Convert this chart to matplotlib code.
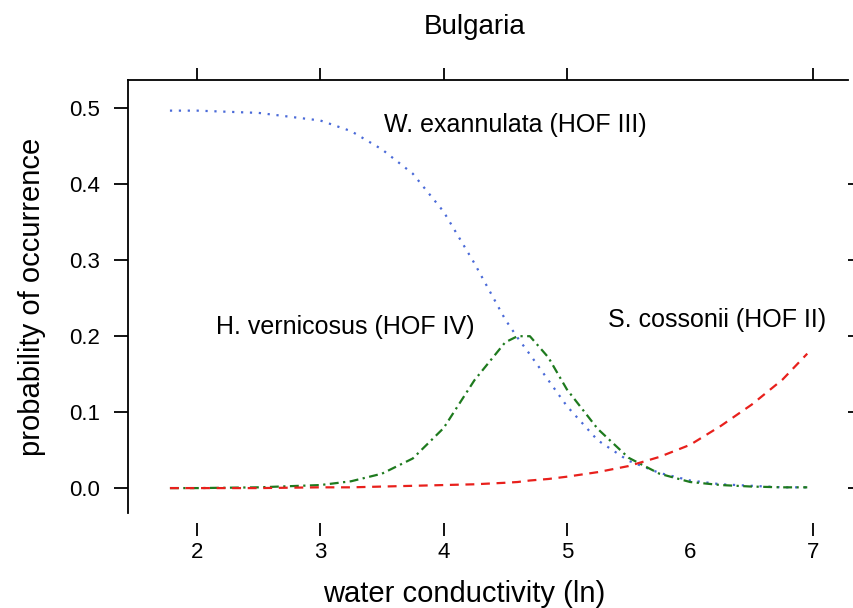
import matplotlib
matplotlib.use("Agg")
import matplotlib.pyplot as plt

plt.rcParams['font.family'] = ['Liberation Sans', 'DejaVu Sans']

# water conductivity (ln) and fitted probabilities
conductivity = [1.78, 2.0, 2.5, 3.0, 3.25, 3.5, 3.75, 4.0, 4.25, 4.5, 4.6,
                4.7, 4.85, 5.0, 5.25, 5.5, 5.75, 6.0, 6.25, 6.5, 6.75, 6.95]
w_exannulata = [0.497, 0.497, 0.494, 0.484, 0.470, 0.446, 0.414, 0.364, 0.296,
                0.222, 0.198, 0.176, 0.142, 0.108, 0.063, 0.036, 0.020, 0.010,
                0.005, 0.003, 0.001, 0.001]
h_vernicosus = [0.0, 0.0, 0.001, 0.004, 0.009, 0.019, 0.039, 0.079, 0.142,
                0.192, 0.200, 0.200, 0.172, 0.130, 0.078, 0.040, 0.019, 0.008,
                0.004, 0.002, 0.001, 0.001]
s_cossonii = [0.0, 0.0, 0.0, 0.001, 0.001, 0.002, 0.003, 0.004, 0.005, 0.007,
              0.008, 0.010, 0.012, 0.015, 0.021, 0.029, 0.041, 0.057, 0.082,
              0.110, 0.143, 0.177]

labels = ["W. exannulata (HOF III)", "H. vernicosus (HOF IV)", "S. cossonii (HOF II)"]
label_pos = [(3.52, 0.478), (2.15, 0.212), (5.33, 0.221)]

xticks = [2, 3, 4, 5, 6, 7]
yticks = [0.0, 0.1, 0.2, 0.3, 0.4, 0.5]

fig = plt.figure(figsize=(8.54, 6.08), dpi=100)
ax = fig.add_axes([0.1499, 0.156, 0.843, 0.712])

ax.plot(conductivity, w_exannulata, color="#4a6ad8", linestyle=(0, (1, 3)), linewidth=1.6)
ax.plot(conductivity, h_vernicosus, color="#1e7a1e", linestyle=(0, (4, 2, 1, 2)), linewidth=1.6)
ax.plot(conductivity, s_cossonii, color="#e8201c", linestyle=(0, (4, 3)), linewidth=1.6)

for txt, (tx, ty) in zip(labels, label_pos):
    ax.text(tx, ty, txt, fontsize=18, ha="left", va="center")

ax.set_xlim(1.44, 7.28)
ax.set_ylim(-0.033, 0.537)

ax.spines['right'].set_visible(False)
ax.spines['bottom'].set_visible(False)
ax.spines['bottom'].set_position(('outward', 7))
ax.spines['left'].set_linewidth(1.3)
ax.spines['top'].set_linewidth(1.3)

ax.set_xticks(xticks)
ax.set_xticklabels([str(t) for t in xticks])
ax.set_yticks(yticks)
ax.set_yticklabels(["%.1f" % t for t in yticks])

ax.tick_params(axis='x', which='both', direction='out', top=True, bottom=True,
               labeltop=False, length=9, width=1.3, pad=5, labelsize=16)
ax.tick_params(axis='y', which='both', direction='out', left=True, right=True,
               length=10, width=1.3, pad=10, labelsize=16)
ax.yaxis.get_major_ticks()[-1].tick2line.set_visible(False)
ax.xaxis.get_major_ticks()[4].tick1line.set_visible(False)
ax.xaxis.get_major_ticks()[4].tick2line.set_visible(False)
for t in ax.yaxis.get_major_ticks():
    t.tick2line.set_markersize(5)

fig.text(464 / 854, 1 - 594 / 608, "water conductivity (ln)", fontsize=21,
         ha="center", va="center")
fig.text(32 / 854, 1 - 297 / 608, "probability of occurrence", fontsize=21,
         ha="center", va="center", rotation=90)
fig.text(475 / 854, 1 - 27 / 608, "Bulgaria", fontsize=20, ha="center", va="center")

plt.savefig("out.png", dpi=100)
